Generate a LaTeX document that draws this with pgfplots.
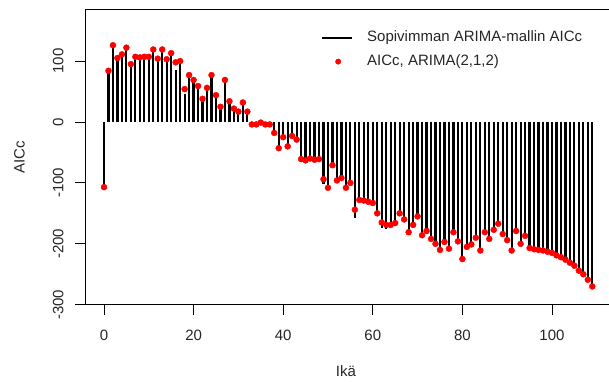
\documentclass[border=0pt]{standalone}
\usepackage{fontspec}
\setmainfont{Liberation Sans}
\usepackage{pgfplots}
\usepackage{pgfplotstable}
\pgfplotsset{compat=1.18}
\pgfplotstableread{
age line point
0 -107 -107
1 84 84
2 126 126
3 105 105
4 111 111
5 122 122
6 95 95
7 107 107
8 106 106
9 107 107
10 107 107
11 119 119
12 104 104
13 119 119
14 103 103
15 113 113
16 86 98
17 96 100
18 46 54
19 77 77
20 69 69
21 59 59
22 38 38
23 56 56
24 77 77
25 44 44
26 25 25
27 69 69
28 34 34
29 22 22
30 17 17
31 32 32
32 17 17
33 -4 -4
34 -4 -4
35 -1 -1
36 -4 -4
37 -4 -4
38 -18 -18
39 -47 -43
40 -25 -25
41 -40 -40
42 -23 -23
43 -29 -29
44 -65 -61
45 -63 -63
46 -60 -60
47 -62 -62
48 -61 -61
49 -102 -94
50 -108 -108
51 -71 -71
52 -96 -96
53 -92 -92
54 -108 -108
55 -100 -100
56 -157 -144
57 -128 -128
58 -129 -129
59 -131 -131
60 -133 -133
61 -155 -150
62 -174 -165
63 -175 -169
64 -169 -169
65 -166 -166
66 -150 -150
67 -160 -160
68 -181 -181
69 -169 -169
70 -155 -155
71 -186 -186
72 -179 -179
73 -192 -192
74 -200 -200
75 -210 -210
76 -197 -197
77 -208 -208
78 -181 -181
79 -196 -196
80 -228 -225
81 -205 -205
82 -201 -201
83 -190 -190
84 -211 -211
85 -181 -181
86 -192 -192
87 -177 -177
88 -167 -167
89 -184 -184
90 -194 -194
91 -211 -211
92 -179 -179
93 -200 -200
94 -187 -187
95 -207 -207
96 -209 -209
97 -210 -210
98 -211 -211
99 -213 -213
100 -215 -215
101 -219 -219
102 -222 -222
103 -226 -226
104 -231 -231
105 -236 -236
106 -244 -244
107 -250 -250
108 -259 -259
109 -270 -270
}\agedata
\begin{document}
\begin{tikzpicture}[font=\fontsize{15}{18}\selectfont]
\useasboundingbox (0pt,0pt) rectangle (609pt,381pt);
\begin{axis}[
  at={(85pt,76.3pt)}, anchor=south west,
  width=527pt, height=295.4pt, scale only axis,
  xmin=-4.24, xmax=113.4, ymin=-300, ymax=185,
  axis line style={-, line width=0.9pt, black},
  tick align=outside, major tick length=10pt,
  tick style={line width=0.9pt, black},
  xtick={0,20,40,60,80,100},
  ytick={-300,-200,-100,0,100},
  xtick pos=bottom, ytick pos=left,
  /pgf/number format/assume math mode=true,
  tick label style={font=\fontsize{15}{18}\selectfont, text=black!85},
  xticklabel style={anchor=base, inner sep=0pt},
  xticklabel shift=26pt,
  yticklabel style={rotate=90, anchor=base, inner sep=0pt},
  yticklabel shift=11.5pt,
  xlabel={Ikä}, ylabel={AICc},
  every axis x label/.style={at={(axis description cs:0.495,-0.2244)}, anchor=center, text=black!85},
  every axis y label/.style={at={(axis description cs:-0.1245,0.5)}, rotate=90, anchor=center, text=black!85},
  legend style={at={(axis description cs:0.4421,0.9353)}, anchor=north west, draw=none, fill=none,
    font=\fontsize{15}{18}\selectfont, text=black!85, row sep=10pt, column sep=14pt,
    nodes={inner sep=0pt, text height=11pt, text depth=3pt}},
  legend cell align=left,
]
\addplot[ycomb, black, line width=2.2pt, line cap=butt,
  legend image code/.code={\draw[black, line width=2pt] (0pt,0pt) -- (30pt,0pt);}]
  table[x=age, y=line] {\agedata};
\addlegendentry{Sopivimman ARIMA-mallin AICc}
\addplot[only marks, mark=*, mark size=3pt, color=red, mark options={draw=red, fill=red},
  legend image code/.code={\path[draw=none] (0pt,0pt) -- (30pt,0pt); \path[draw=none] plot[mark=*, mark size=2.7pt, mark options={draw=red, fill=red}, only marks] coordinates {(16pt,0pt)};}]
  table[x=age, y=point] {\agedata};
\addlegendentry{AICc, ARIMA(2,1,2)}
\end{axis}
\end{tikzpicture}
\end{document}
